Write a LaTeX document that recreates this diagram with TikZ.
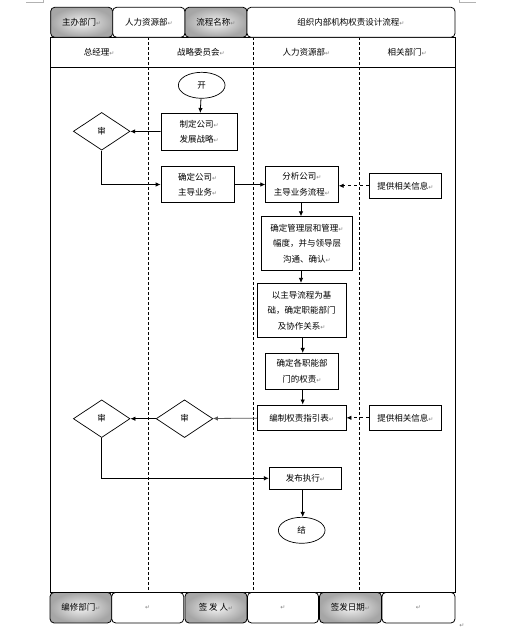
\documentclass[tikz,border=0pt]{standalone}
\usepackage{fontspec}
\setmainfont{Noto Sans CJK SC}
\newfontfamily\retfont{DejaVu Sans}
\usetikzlibrary{shapes.geometric,arrows.meta}
\newcommand\retm{{\retfont\color{gray}\fontsize{6}{6}\selectfont ↵}}
\newcommand\cnfont{\fontsize{8.5}{15.5}\selectfont}
\begin{document}
\begin{tikzpicture}[x=1pt,y=-1pt,
  every node/.style={font=\cnfont},
  gcell/.style={draw, line width=0.8pt, rounded corners=4pt, inner color=gray!10, outer color=gray!70, inner sep=0pt},
  wcell/.style={draw, line width=0.8pt, rounded corners=4pt, fill=white, inner sep=0pt},
  stepbox/.style={draw, line width=0.8pt, align=center, inner sep=0pt, fill=white},
  decide/.style={draw, line width=0.7pt, diamond, inner sep=0pt, minimum width=56.7pt, minimum height=37.7pt},
  term/.style={draw, line width=0.7pt, ellipse, inner sep=0pt, minimum width=46.7pt, minimum height=26pt},
  arr/.style={draw, line width=0.8pt, -{Latex[length=5pt,width=4.5pt]}},
  darr/.style={arr, dashed}
]
\useasboundingbox (0,0) rectangle (506,632);
% crop marks
\draw[gray!60, line width=0.5pt] (26,2.7) -- (43,2.7) -- (43,0);
\draw[gray!60, line width=0.5pt] (459,0) -- (459,2.7) -- (476,2.7);

% main frame
\draw[line width=0.8pt] (50,37.3) rectangle (455,592.5);
\draw[line width=0.8pt] (50,67) -- (455,67);
\foreach \xx in {148.3,253.3,359.3}
  \draw[line width=0.6pt, dashed, dash pattern=on 3pt off 2pt] (\xx,37.3) -- (\xx,592.5);

% header row
\node[gcell, minimum width=62pt, minimum height=30pt] (h1) at (81.7,22.3) {主办部门\retm};
\node[wcell, minimum width=72.3pt, minimum height=30pt] (h2) at (148.8,22.3) {人力资源部\retm};
\node[gcell, minimum width=62pt, minimum height=30pt] (h3) at (216,22.3) {流程名称\retm};
\node[wcell, minimum width=208pt, minimum height=30pt] (h4) at (351,22.3) {组织内部机构权责设计流程\retm};

% lane headers
\node (l1) at (99.2,52.2) {总经理\retm};
\node (l2) at (200.8,52.2) {战略委员会\retm};
\node (l3) at (306.3,52.2) {人力资源部\retm};
\node (l4) at (407.2,52.2) {相关部门\retm};

% bottom row
\node[gcell, minimum width=61.5pt, minimum height=30.5pt] (b1) at (80.8,607.7) {编修部门\retm};
\node[wcell, minimum width=72pt, minimum height=30.5pt] (b2) at (147.7,607.7) {\retm};
\node[gcell, minimum width=62pt, minimum height=30.5pt] (b3) at (216,607.7) {签\ 发\ 人\retm};
\node[wcell, minimum width=71pt, minimum height=30.5pt] (b4) at (283,607.7) {\retm};
\node[gcell, minimum width=62pt, minimum height=30.5pt] (b5) at (350.5,607.7) {签发日期\retm};
\node[wcell, minimum width=73pt, minimum height=30.5pt] (b6) at (418.5,607.7) {\retm};
\node[inner sep=0pt] (endmark) at (462,626) {\retm};

% flow nodes
\node[term] (start) at (201.7,85.3) {开};
\node[stepbox, minimum width=76.3pt, minimum height=36.7pt] (s1) at (199.2,131.7) {制定公司\retm\\发展战略\retm};
\node[decide] (d1) at (101.7,131.3) {审};
\node[stepbox, minimum width=73.3pt, minimum height=35.6pt] (s2) at (197.7,184.5) {确定公司\retm\\主导业务\retm};
\node[stepbox, minimum width=72.6pt, minimum height=35.6pt] (s3) at (302,184.5) {分析公司\retm\\主导业务流程\retm};
\node[stepbox, minimum width=72.4pt, minimum height=25pt] (i1) at (405.5,185.8) {提供相关信息\retm};
\node[stepbox, minimum width=90.6pt, minimum height=54pt] (s4) at (307,243.7) {确定管理层和管理\retm\\幅度，并与领导层\\沟通、确认\retm};
\node[stepbox, minimum width=88.7pt, minimum height=54pt] (s5) at (301.7,310.3) {以主导流程为基\\础，确定职能部门\\及协作关系\retm};
\node[stepbox, minimum width=72.6pt, minimum height=35.7pt] (s6) at (302,371.2) {确定各职能部\\门的权责\retm};
\node[stepbox, minimum width=88.7pt, minimum height=25.7pt] (s7) at (301.7,417.8) {编制权责指引表\retm};
\node[stepbox, minimum width=72.4pt, minimum height=25.7pt] (i2) at (405.5,417.8) {提供相关信息\retm};
\node[decide] (d2) at (184.5,418.7) {审};
\node[decide] (d3) at (101.7,418.7) {审};
\node[stepbox, minimum width=72.4pt, minimum height=22pt] (s8) at (305.5,478.3) {发布执行\retm};
\node[term] (stop) at (301.7,530.3) {结};

% connectors
\draw[arr] (start) -- (s1);
\draw[arr] (s1) -- (d1);
\draw[arr] (d1.south) |- (s2.west);
\draw[arr] (s2) -- (s3);
\draw[darr] (i1) -- (s3.east |- i1);
\draw[arr] (s3.south -| 301,0) -- (s4.north -| 301,0);
\draw[arr] (s4.south -| 301,0) -- (s5.north -| 301,0);
\draw[arr] (s5.south -| 302.7,0) -- (s6.north -| 302.7,0);
\draw[arr] (s6.south -| 302.7,0) -- (s7.north -| 302.7,0);
\draw[darr] (i2) -- (s7);
\draw[arr, draw=gray!70!black] (s7) -- (d2);
\draw[arr] (d2) -- (d3);
\draw[arr] (d3.south) |- (s8.west);
\draw[arr] (s8.south -| 302.7,0) -- (stop.north -| 302.7,0);
\end{tikzpicture}
\end{document}
